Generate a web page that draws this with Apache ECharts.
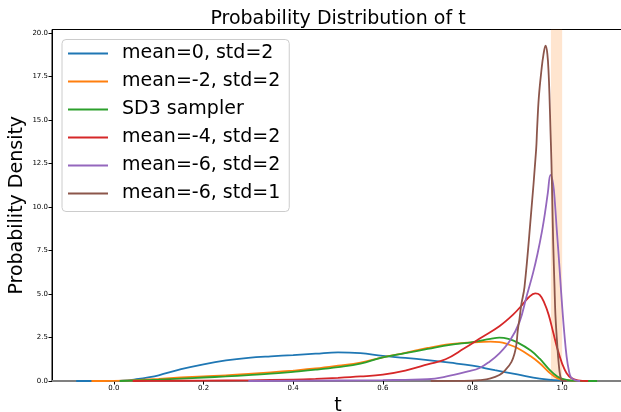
<!DOCTYPE html>
<html>
<head>
<meta charset="utf-8">
<script src="https://cdn.jsdelivr.net/npm/echarts@6/dist/echarts.min.js"></script>
<style>html,body{margin:0;padding:0;background:#fff}#c{width:621px;height:412px}</style>
</head>
<body>
<div id="c"></div>
<script>
// ---- data ----
const seriesNames = ['mean=0, std=2','mean=-2, std=2','SD3 sampler','mean=-4, std=2','mean=-6, std=2','mean=-6, std=1'];
const xTicks = [0.0, 0.2, 0.4, 0.6, 0.8, 1.0];
const yTicks = [0, 2.5, 5, 7.5, 10, 12.5, 15, 17.5, 20];
const highlightBand = [0.975, 1.0];

const tBlue = [-0.084,-0.02,0.02,0.05,0.08,0.1,0.15,0.2,0.25,0.3,0.35,0.4,0.45,0.5,0.55,0.6,0.65,0.7,0.75,0.8,0.85,0.9,0.95,1.0,1.04,1.05];
const dBlue = [0,0,0.02,0.1,0.22,0.33,0.68,0.96,1.18,1.33,1.42,1.49,1.57,1.65,1.6,1.44,1.33,1.2,1.05,0.88,0.62,0.38,0.14,0.03,0.005,0];

const tOrange = [-0.05,0.0,0.05,0.1,0.15,0.2,0.25,0.3,0.35,0.4,0.45,0.5,0.55,0.6,0.65,0.7,0.75,0.8,0.84,0.86,0.88,0.9,0.93,0.95,0.97,0.99,1.01,1.04,1.05];
const dOrange = [0,0.01,0.05,0.12,0.2,0.27,0.32,0.41,0.5,0.6,0.72,0.88,1.06,1.36,1.62,1.9,2.12,2.22,2.26,2.24,2.1,1.9,1.42,1.02,0.52,0.15,0.04,0.005,0];

const tGreen = [0.013,0.05,0.1,0.15,0.2,0.25,0.3,0.35,0.4,0.45,0.5,0.55,0.6,0.65,0.7,0.75,0.8,0.84,0.86,0.88,0.9,0.93,0.95,0.97,0.99,1.01,1.04,1.078];
const dGreen = [0,0.03,0.08,0.14,0.2,0.26,0.34,0.42,0.53,0.65,0.8,1.0,1.36,1.6,1.84,2.08,2.24,2.42,2.49,2.42,2.22,1.75,1.28,0.7,0.25,0.07,0.01,0];

const tRed = [0.042,0.1,0.2,0.3,0.4,0.45,0.5,0.55,0.6,0.65,0.7,0.74,0.78,0.82,0.86,0.89,0.91,0.925,0.94,0.95,0.96,0.97,0.98,0.99,1.0,1.01,1.02,1.035,1.058];
const dRed = [0,0.01,0.02,0.04,0.08,0.12,0.18,0.26,0.37,0.6,0.95,1.25,1.85,2.5,3.15,3.8,4.35,4.8,5.04,4.95,4.5,3.8,2.8,1.8,1.0,0.45,0.18,0.04,0];

const tPurple = [0.3,0.5,0.6,0.65,0.7,0.74,0.79,0.816,0.838,0.86,0.883,0.905,0.92,0.935,0.945,0.955,0.962,0.968,0.974,0.98,0.984,0.988,0.992,0.996,1.0,1.005,1.01,1.015,1.02,1.03,1.04];
const dPurple = [0,0.03,0.05,0.07,0.1,0.25,0.55,0.75,1.11,1.59,2.3,3.4,4.8,6.2,7.3,8.6,9.7,10.8,11.84,11.3,10.2,8.7,7.3,5.8,4.3,2.7,1.4,0.6,0.2,0.04,0];

const tBrown = [0.707,0.8,0.816,0.838,0.86,0.875,0.887,0.894,0.898,0.901,0.905,0.909,0.916,0.93,0.942,0.944,0.948,0.954,0.958,0.963,0.967,0.97,0.972,0.974,0.976,0.978,0.98,0.983,0.985,0.988,0.991,0.994,0.997,1.0,1.01];
const dBrown = [0,0.02,0.05,0.13,0.34,0.68,1.1,1.6,2.1,2.9,3.6,4.4,5.4,9.4,13.3,14.4,16.3,17.9,18.7,19.27,18.8,17.6,16.2,14.4,12.7,10.4,8.0,5.4,3.8,2.5,1.4,0.6,0.15,0.02,0];

const colors = ['#1f77b4','#ff7f0e','#2ca02c','#d62728','#9467bd','#8c564b'];
const tSets = [tBlue,tOrange,tGreen,tRed,tPurple,tBrown];
const dSets = [dBlue,dOrange,dGreen,dRed,dPurple,dBrown];

const FONT = 'DejaVu Sans';
const chart = echarts.init(document.getElementById('c'), null, {renderer:'canvas'});

const lineSeries = seriesNames.map((name, i) => ({
  name: name,
  type: 'line',
  data: tSets[i].map((t, j) => [t, dSets[i][j]]),
  showSymbol: false,
  symbol: 'none',
  smooth: 0.4,
  z: 3,
  lineStyle: {color: colors[i], width: 1.8},
  itemStyle: {color: colors[i]}
}));

const bandSeries = {
  name: 'band',
  type: 'line',
  data: [],
  z: 1,
  silent: true,
  markArea: {
    silent: true,
    itemStyle: {color: 'rgba(255,127,14,0.2)'},
    data: [[{xAxis: highlightBand[0]}, {xAxis: highlightBand[1]}]]
  }
};

chart.setOption({
  animation: false,
  color: colors,
  title: {
    text: 'Probability Distribution of t',
    left: 333, top: 5, textAlign: 'center',
    textStyle: {fontFamily: FONT, fontSize: 19, fontWeight: 'normal', color: '#000'}
  },
  grid: {left: 52, right: -3, top: 29.5, bottom: 31, show: true, borderColor: '#000', borderWidth: 1,
         backgroundColor: 'transparent', containLabel: false, outerBoundsMode: 'none'},
  legend: {
    data: seriesNames.map(n => ({name: n, icon: 'rect'})),
    orient: 'vertical',
    left: 62, top: 39.5,
    padding: [4, 9, 8, 6],
    itemWidth: 40, itemHeight: 2, itemGap: 8,
    backgroundColor: 'rgba(255,255,255,0.8)',
    borderColor: '#cccccc', borderWidth: 1, borderRadius: 4,
    textStyle: {fontFamily: FONT, fontSize: 19, color: '#000', lineHeight: 20, padding: [0,0,0,9]}
  },
  xAxis: {
    type: 'value', min: -0.138, max: 1.138,
    name: 't', nameLocation: 'middle', nameGap: 13,
    nameTextStyle: {fontFamily: FONT, fontSize: 19, color: '#000'},
    axisLine: {show: true, onZero: false, lineStyle: {color: '#808080', width: 2}},
    axisTick: {show: true, length: 3.5, lineStyle: {color: '#000'}, customValues: xTicks},
    axisLabel: {fontFamily: FONT, fontSize: 7, color: '#000', margin: 4, customValues: xTicks, formatter: v => v.toFixed(1)},
    splitLine: {show: false}
  },
  yAxis: {
    type: 'value', min: 0, max: 20.2,
    name: 'Probability Density', nameLocation: 'middle', nameGap: 25, nameMoveOverlap: false,
    nameTextStyle: {fontFamily: FONT, fontSize: 19, color: '#000'},
    axisLine: {show: true, onZero: false, lineStyle: {color: '#000', width: 1}},
    axisTick: {show: true, length: 3.5, lineStyle: {color: '#000'}, customValues: yTicks},
    axisLabel: {fontFamily: FONT, fontSize: 7, color: '#000', margin: 4, customValues: yTicks, formatter: v => v.toFixed(1)},
    splitLine: {show: false}
  },
  series: [bandSeries].concat(lineSeries)
});
</script>
</body>
</html>
